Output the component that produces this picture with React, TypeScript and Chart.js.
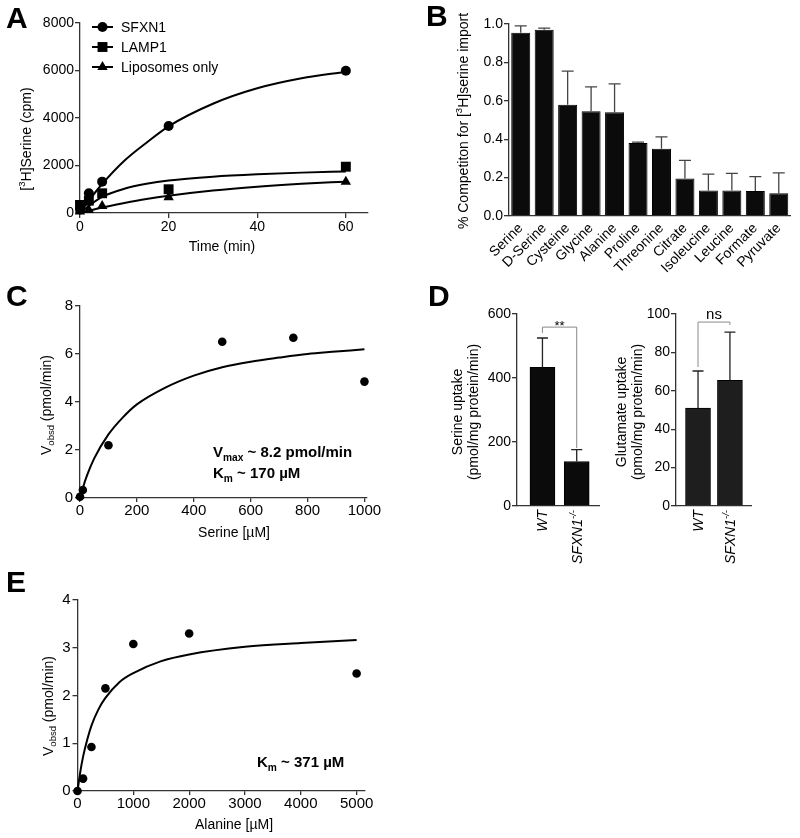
import React, { useEffect, useRef } from 'react';
import { Chart, registerables } from 'chart.js';
Chart.register(...registerables);

const FONT = "'Liberation Sans', Arimo, Arial, Helvetica, sans-serif";
const AXIS = '#333333';
const INK = '#000000';
const LW = 1.3;

// ---------- Panel A : serine uptake over time ----------
const seriesNamesA = ['SFXN1', 'LAMP1', 'Liposomes only'];
const timeTicks = [0, 20, 40, 60];
const timeMin = [0, 2, 5, 20, 60];
const sfxn1Cpm = [150, 830, 1320, 3660, 5990];
const lamp1Cpm = [340, 520, 830, 1000, 1950];
const liposomeCpm = [60, 130, 295, 660, 1320];
const fitTime = [0, 2, 5, 10, 15, 20, 30, 40, 50, 60];
const sfxn1Fit = [0, 520, 1220, 2200, 2960, 3650, 4600, 5250, 5670, 5950];
const lamp1Fit = [0, 300, 680, 1020, 1230, 1370, 1530, 1630, 1700, 1750];
const liposomeFit = [0, 90, 230, 420, 590, 730, 950, 1110, 1230, 1320];

// ---------- Panel B : competition ----------
const competitors = ['Serine', 'D-Serine', 'Cysteine', 'Glycine', 'Alanine', 'Proline', 'Threonine', 'Citrate', 'Isoleucine', 'Leucine', 'Formate', 'Pyruvate'];
const competition = [0.955, 0.97, 0.58, 0.545, 0.54, 0.38, 0.35, 0.195, 0.133, 0.133, 0.13, 0.118];
const competitionErrTop = [0.99, 0.978, 0.755, 0.673, 0.688, 0.385, 0.412, 0.29, 0.218, 0.222, 0.205, 0.225];

// ---------- Panel C : serine kinetics ----------
const serineTicks = [0, 200, 400, 600, 800, 1000];
const serineUM = [0, 10, 100, 500, 750, 1000];
const serineV = [0.05, 0.33, 2.2, 6.51, 6.68, 4.85];
const serineFitUM = [0, 10, 25, 50, 100, 150, 200, 300, 400, 500, 600, 700, 800, 900, 1000];
const serineFitV = [0, 0.42, 0.95, 1.65, 2.65, 3.35, 3.9, 4.6, 5.1, 5.45, 5.68, 5.85, 6.0, 6.1, 6.2];

// ---------- Panel D : uptake in cells ----------
const genotypes = ['WT', 'SFXN1'];
const genotypeX = [1, 2];
const serineUptake = [433, 139];
const serineUptakeErrTop = [525, 176];
const glutamateUptake = [51, 65.5];
const glutamateUptakeErrTop = [70.3, 90.6];

// ---------- Panel E : alanine kinetics ----------
const alanineTicks = [0, 1000, 2000, 3000, 4000, 5000];
const alanineUM = [0, 100, 250, 500, 1000, 2000, 5000];
const alanineV = [0, 0.26, 0.92, 2.15, 3.08, 3.3, 2.46];
const alanineFitUM = [0, 25, 50, 100, 175, 250, 375, 500, 750, 1000, 1500, 2000, 3000, 4000, 5000];
const alanineFitV = [0, 0.2, 0.4, 0.72, 1.08, 1.37, 1.71, 1.95, 2.28, 2.47, 2.72, 2.86, 3.02, 3.1, 3.16];

type Box = { x: number; y: number; w: number; h: number };
type Area = { l: number; t: number; r: number; b: number };
type Seg = { t: string; sup?: boolean; sub?: boolean };
type TOpts = { size: number; bold?: boolean; italic?: boolean; rot?: number; align?: 'left' | 'center' | 'right'; color?: string };

function fontStr(size: number, bold?: boolean, italic?: boolean) {
  return `${italic ? 'italic ' : ''}${bold ? 'bold ' : ''}${size}px ${FONT}`;
}

function drawRich(ctx: CanvasRenderingContext2D, segs: Seg[], x: number, y: number, o: TOpts) {
  ctx.save();
  ctx.translate(x, y);
  if (o.rot) ctx.rotate(o.rot);
  ctx.fillStyle = o.color || INK;
  ctx.textBaseline = 'alphabetic';
  ctx.textAlign = 'left';
  const parts = segs.map((s) => {
    const size = s.sup || s.sub ? o.size * 0.68 : o.size;
    const f = fontStr(size, o.bold, o.italic);
    ctx.font = f;
    return { s, f, w: ctx.measureText(s.t).width, dy: s.sup ? -o.size * 0.4 : s.sub ? o.size * 0.24 : 0 };
  });
  const total = parts.reduce((a, p) => a + p.w, 0);
  let cx = o.align === 'center' ? -total / 2 : o.align === 'right' ? -total : 0;
  for (const p of parts) {
    ctx.font = p.f;
    ctx.fillText(p.s.t, cx, p.dy);
    cx += p.w;
  }
  ctx.restore();
}

function marker(ctx: CanvasRenderingContext2D, style: string, x: number, y: number, r: number) {
  ctx.beginPath();
  if (style === 'circle') ctx.arc(x, y, r, 0, Math.PI * 2);
  else if (style === 'rect') {
    const h = r * Math.SQRT1_2;
    ctx.rect(x - h, y - h, 2 * h, 2 * h);
  } else {
    const s = Math.sin((2 * Math.PI) / 3) * r;
    const c = Math.cos((2 * Math.PI) / 3) * r;
    ctx.moveTo(x, y - r);
    ctx.lineTo(x + s, y - c);
    ctx.lineTo(x - s, y - c);
  }
  ctx.closePath();
  ctx.fill();
}

function baseOptions(box: Box, area: Area) {
  return {
    responsive: false,
    maintainAspectRatio: false,
    animation: false as const,
    devicePixelRatio: 1,
    layout: { padding: { left: 0, top: area.t - box.y, right: box.x + box.w - area.r, bottom: 0 } },
    plugins: { legend: { display: false }, tooltip: { enabled: false } },
  };
}

function linAxis(o: { min: number; max: number; step: number; isX: boolean; fix: number; size?: number; pad?: number; tickLen?: number; fmt?: (v: number) => string; ticks?: number[] }) {
  return {
    type: 'linear' as const,
    min: o.min,
    max: o.max,
    ticks: {
      stepSize: o.step,
      includeBounds: false,
      autoSkip: false,
      maxRotation: 0,
      color: INK,
      font: { family: FONT, size: o.size ?? 14 },
      padding: o.pad ?? 1,
      callback: (v: any) => (o.fmt ? o.fmt(Number(v)) : String(v)),
    },
    afterBuildTicks: (s: any) => {
      if (o.ticks) s.ticks = o.ticks.map((v) => ({ value: v }));
    },
    grid: { display: true, drawOnChartArea: false, drawTicks: true, tickLength: o.tickLen ?? 5, color: AXIS, lineWidth: LW },
    border: { display: true, color: AXIS, width: LW },
    afterFit: (s: any) => {
      if (o.isX) s.height = o.fix;
      else s.width = o.fix;
    },
  };
}

const pts = (xs: number[], ys: number[]) => xs.map((x, i) => ({ x, y: ys[i] }));

const fitSet = (xs: number[], ys: number[]) => ({
  type: 'line' as const,
  data: pts(xs, ys),
  borderColor: INK,
  borderWidth: 2,
  pointRadius: 0,
  cubicInterpolationMode: 'monotone' as const,
  fill: false,
  clip: false as any,
});

const dotSet = (xs: number[], ys: number[], style: string, r: number) => ({
  type: 'line' as const,
  data: pts(xs, ys),
  showLine: false,
  pointStyle: style as any,
  pointRadius: r,
  pointHoverRadius: r,
  backgroundColor: INK,
  borderColor: INK,
  borderWidth: 0,
  clip: false as any,
});

function errorBars(chart: any, tops: number[], color: string, cap: number) {
  const meta = chart.getDatasetMeta(0);
  const ys = chart.scales.y;
  const ctx = chart.ctx as CanvasRenderingContext2D;
  ctx.save();
  ctx.strokeStyle = color;
  ctx.lineWidth = LW;
  meta.data.forEach((bar: any, i: number) => {
    const yTop = ys.getPixelForValue(tops[i]);
    ctx.beginPath();
    ctx.moveTo(bar.x, bar.y);
    ctx.lineTo(bar.x, yTop);
    ctx.moveTo(bar.x - cap, yTop);
    ctx.lineTo(bar.x + cap, yTop);
    ctx.stroke();
  });
  ctx.restore();
}

// ---------------- Panel builders ----------------
const A_BOX: Box = { x: 0, y: 0, w: 400, h: 262 };
const A_AREA: Area = { l: 80, t: 23, r: 368, b: 213 };

function makeA(canvas: HTMLCanvasElement) {
  const box = A_BOX, area = A_AREA;
  const styles = ['circle', 'rect', 'triangle'];
  const radii = [5, 7, 6];
  return new Chart(canvas, {
    type: 'line',
    data: {
      datasets: [
        fitSet(fitTime, sfxn1Fit),
        fitSet(fitTime, lamp1Fit),
        fitSet(fitTime, liposomeFit),
        dotSet(timeMin, sfxn1Cpm, styles[0], radii[0]),
        dotSet(timeMin, lamp1Cpm, styles[1], radii[1]),
        dotSet(timeMin, liposomeCpm, styles[2], radii[2]),
      ] as any,
    },
    options: {
      ...baseOptions(box, area),
      scales: {
        x: linAxis({ min: 0, max: 65, step: 20, isX: true, fix: box.y + box.h - area.b, pad: 1, tickLen: 5, ticks: timeTicks }),
        y: linAxis({ min: 0, max: 8000, step: 2000, isX: false, fix: area.l - box.x, pad: 1, tickLen: 5 }),
      },
    } as any,
    plugins: [
      {
        id: 'decoA',
        afterDraw(chart: any) {
          const ctx = chart.ctx as CanvasRenderingContext2D;
          const ox = box.x, oy = box.y;
          drawRich(ctx, [{ t: '[' }, { t: '3', sup: true }, { t: 'H]Serine (cpm)' }], 31 - ox, 139 - oy, { size: 14, rot: -Math.PI / 2, align: 'center' });
          drawRich(ctx, [{ t: 'Time (min)' }], 222 - ox, 251 - oy, { size: 14, align: 'center' });
          const rows = [27, 47, 67];
          ctx.save();
          ctx.fillStyle = INK;
          ctx.strokeStyle = INK;
          ctx.lineWidth = 2;
          seriesNamesA.forEach((name, i) => {
            const y = rows[i] - oy;
            ctx.beginPath();
            ctx.moveTo(92 - ox, y);
            ctx.lineTo(113 - ox, y);
            ctx.stroke();
            marker(ctx, styles[i], 102.5 - ox, y, radii[i]);
            drawRich(ctx, [{ t: name }], 121 - ox, y + 5, { size: 14 });
          });
          ctx.restore();
        },
      },
    ],
  });
}

const B_BOX: Box = { x: 400, y: 0, w: 400, h: 280 };
const B_AREA: Area = { l: 509, t: 24, r: 790.5, b: 216 };

function makeB(canvas: HTMLCanvasElement) {
  const box = B_BOX, area = B_AREA;
  return new Chart(canvas, {
    type: 'bar',
    data: {
      labels: competitors,
      datasets: [
        {
          data: competition,
          backgroundColor: '#0b0b0b',
          borderColor: '#000000',
          borderWidth: 1,
          barPercentage: 0.81,
          categoryPercentage: 1,
        },
      ],
    },
    options: {
      ...baseOptions(box, area),
      scales: {
        x: {
          type: 'category',
          offset: true,
          grid: { display: false, drawTicks: false },
          border: { display: true, color: AXIS, width: LW },
          ticks: { color: INK, font: { family: FONT, size: 14 }, minRotation: 45, maxRotation: 45, autoSkip: false, padding: 4 },
          afterFit: (s: any) => {
            s.height = box.y + box.h - area.b;
          },
        },
        y: linAxis({ min: 0, max: 1, step: 0.2, isX: false, fix: area.l - box.x, pad: 1, tickLen: 5, fmt: (v) => v.toFixed(1) }),
      },
    } as any,
    plugins: [
      {
        id: 'decoB',
        afterDatasetsDraw(chart: any) {
          errorBars(chart, competitionErrTop, '#444444', 6);
        },
        afterDraw(chart: any) {
          const ctx = chart.ctx as CanvasRenderingContext2D;
          drawRich(ctx, [{ t: '% Competiton for [' }, { t: '3', sup: true }, { t: 'H]serine import' }], 468 - box.x, 121 - box.y, { size: 14, rot: -Math.PI / 2, align: 'center' });
        },
      },
    ],
  });
}

function makeKinetics(canvas: HTMLCanvasElement, box: Box, area: Area, cfg: {
  xs: number[]; ys: number[]; fx: number[]; fy: number[]; xmax: number; xticks: number[]; ymax: number; ystep: number;
  xTitle: string; xTitlePos: [number, number]; yTitlePos: [number, number]; notes: { segs: Seg[]; x: number; y: number }[]; size: number; dotR: number;
}) {
  return new Chart(canvas, {
    type: 'line',
    data: { datasets: [fitSet(cfg.fx, cfg.fy), dotSet(cfg.xs, cfg.ys, 'circle', cfg.dotR)] as any },
    options: {
      ...baseOptions(box, area),
      scales: {
        x: linAxis({ min: 0, max: cfg.xmax, step: cfg.xticks[1], isX: true, fix: box.y + box.h - area.b, pad: 0, tickLen: 4, size: cfg.size, ticks: cfg.xticks }),
        y: linAxis({ min: 0, max: cfg.ymax, step: cfg.ystep, isX: false, fix: area.l - box.x, pad: 2, tickLen: 5, size: cfg.size }),
      },
    } as any,
    plugins: [
      {
        id: 'decoK',
        afterDraw(chart: any) {
          const ctx = chart.ctx as CanvasRenderingContext2D;
          drawRich(ctx, [{ t: 'V' }, { t: 'obsd', sub: true }, { t: ' (pmol/min)' }], cfg.yTitlePos[0] - box.x, cfg.yTitlePos[1] - box.y, { size: 14, rot: -Math.PI / 2, align: 'center' });
          drawRich(ctx, [{ t: cfg.xTitle }], cfg.xTitlePos[0] - box.x, cfg.xTitlePos[1] - box.y, { size: 14, align: 'center' });
          cfg.notes.forEach((n) => drawRich(ctx, n.segs, n.x - box.x, n.y - box.y, { size: 15, bold: true }));
        },
      },
    ],
  });
}

const C_BOX: Box = { x: 0, y: 262, w: 400, h: 290 };
const C_AREA: Area = { l: 80, t: 306, r: 367, b: 498 };
const E_BOX: Box = { x: 0, y: 562, w: 400, h: 276 };
const E_AREA: Area = { l: 77.5, t: 600, r: 365, b: 791 };

function makeC(canvas: HTMLCanvasElement) {
  return makeKinetics(canvas, C_BOX, C_AREA, {
    xs: serineUM, ys: serineV, fx: serineFitUM, fy: serineFitV, xmax: 1009, xticks: serineTicks, ymax: 8, ystep: 2,
    xTitle: 'Serine [µM]', xTitlePos: [234, 537], yTitlePos: [51, 405], size: 15, dotR: 4.3,
    notes: [
      { segs: [{ t: 'V' }, { t: 'max', sub: true }, { t: ' ~ 8.2 pmol/min' }], x: 213, y: 457 },
      { segs: [{ t: 'K' }, { t: 'm', sub: true }, { t: ' ~ 170 µM' }], x: 213, y: 478 },
    ],
  });
}

function makeE(canvas: HTMLCanvasElement) {
  return makeKinetics(canvas, E_BOX, E_AREA, {
    xs: alanineUM, ys: alanineV, fx: alanineFitUM, fy: alanineFitV, xmax: 5150, xticks: alanineTicks, ymax: 4, ystep: 1,
    xTitle: 'Alanine [µM]', xTitlePos: [234, 829], yTitlePos: [53, 706], size: 15, dotR: 4.3,
    notes: [{ segs: [{ t: 'K' }, { t: 'm', sub: true }, { t: ' ~ 371 µM' }], x: 257, y: 767 }],
  });
}

function makeD(canvas: HTMLCanvasElement, box: Box, area: Area, cfg: {
  values: number[]; errTop: number[]; ymax: number; ystep: number; xmin: number; xmax: number; color: string;
  titles: { t: string; x: number }[]; bracket: { y: number; l: number; r: number; label: string; labelSize: number; gap: number };
}) {
  return new Chart(canvas, {
    type: 'bar',
    data: {
      datasets: [
        {
          data: pts(genotypeX, cfg.values),
          backgroundColor: cfg.color,
          borderColor: '#000000',
          borderWidth: 1,
          barThickness: 25,
        },
      ],
    },
    options: {
      ...baseOptions(box, area),
      scales: {
        x: {
          type: 'linear',
          offset: false,
          min: cfg.xmin,
          max: cfg.xmax,
          ticks: { display: false },
          grid: { display: false, drawTicks: false, offset: false },
          border: { display: true, color: AXIS, width: LW },
          afterFit: (s: any) => {
            s.height = box.y + box.h - area.b;
          },
        },
        y: linAxis({ min: 0, max: cfg.ymax, step: cfg.ystep, isX: false, fix: area.l - box.x, pad: 1, tickLen: 5 }),
      },
    } as any,
    plugins: [
      {
        id: 'decoD',
        afterDatasetsDraw(chart: any) {
          errorBars(chart, cfg.errTop, '#222222', 5.5);
        },
        afterDraw(chart: any) {
          const ctx = chart.ctx as CanvasRenderingContext2D;
          const xs = chart.scales.x, ys = chart.scales.y;
          cfg.titles.forEach((tt) => drawRich(ctx, [{ t: tt.t }], tt.x - box.x, 412 - box.y, { size: 14, rot: -Math.PI / 2, align: 'center' }));
          const top = chart.chartArea.bottom + 4;
          genotypeX.forEach((gx, i) => {
            const px = xs.getPixelForValue(gx) + 5;
            const segs: Seg[] = i === 0 ? [{ t: genotypes[i] }] : [{ t: genotypes[i] }, { t: '-/-', sup: true }];
            drawRich(ctx, segs, px, top, { size: 14, italic: true, rot: -Math.PI / 2, align: 'right' });
          });
          const b = cfg.bracket;
          const x1 = xs.getPixelForValue(genotypeX[0]);
          const x2 = xs.getPixelForValue(genotypeX[1]);
          const yb = ys.getPixelForValue(b.y);
          ctx.save();
          ctx.strokeStyle = '#8a8a8a';
          ctx.lineWidth = 1;
          ctx.beginPath();
          ctx.moveTo(x1, ys.getPixelForValue(b.l));
          ctx.lineTo(x1, yb);
          ctx.lineTo(x2, yb);
          ctx.lineTo(x2, ys.getPixelForValue(b.r));
          ctx.stroke();
          ctx.restore();
          drawRich(ctx, [{ t: b.label }], (x1 + x2) / 2, yb - b.gap, { size: b.labelSize, align: 'center' });
        },
      },
    ],
  });
}

const DL_BOX: Box = { x: 430, y: 280, w: 170, h: 300 };
const DL_AREA: Area = { l: 517, t: 314, r: 600, b: 506 };
const DR_BOX: Box = { x: 600, y: 280, w: 200, h: 300 };
const DR_AREA: Area = { l: 676, t: 314, r: 751, b: 506 };

function makeDL(canvas: HTMLCanvasElement) {
  return makeD(canvas, DL_BOX, DL_AREA, {
    values: serineUptake, errTop: serineUptakeErrTop, ymax: 600, ystep: 200, xmin: 0.257, xmax: 2.68, color: '#0b0b0b',
    titles: [{ t: 'Serine uptake', x: 462 }, { t: '(pmol/mg protein/min)', x: 478 }],
    bracket: { y: 559, l: 541, r: 181, label: '**', labelSize: 13, gap: -3 },
  });
}

function makeDR(canvas: HTMLCanvasElement) {
  return makeD(canvas, DR_BOX, DR_AREA, {
    values: glutamateUptake, errTop: glutamateUptakeErrTop, ymax: 100, ystep: 20, xmin: 0.31, xmax: 2.66, color: '#1e1e1e',
    titles: [{ t: 'Glutamate uptake', x: 626 }, { t: '(pmol/mg protein/min)', x: 642 }],
    bracket: { y: 95.8, l: 72.4, r: 94.3, label: 'ns', labelSize: 15, gap: 3 },
  });
}

function Panel({ box, make }: { box: Box; make: (c: HTMLCanvasElement) => Chart }) {
  const ref = useRef<HTMLCanvasElement>(null);
  useEffect(() => {
    const chart = make(ref.current as HTMLCanvasElement);
    return () => chart.destroy();
  }, []);
  return (
    <canvas
      ref={ref}
      width={box.w}
      height={box.h}
      style={{ position: 'absolute', left: box.x, top: box.y, width: box.w, height: box.h }}
    />
  );
}

const panelLetters = [
  { t: 'A', x: 6, y: 3 },
  { t: 'B', x: 426, y: 1 },
  { t: 'C', x: 6, y: 281 },
  { t: 'D', x: 428, y: 281 },
  { t: 'E', x: 6, y: 567 },
];

export default function App() {
  return (
    <div style={{ position: 'absolute', left: 0, top: 0, width: 800, height: 838, background: '#ffffff', overflow: 'hidden' }}>
      <Panel box={A_BOX} make={makeA} />
      <Panel box={B_BOX} make={makeB} />
      <Panel box={C_BOX} make={makeC} />
      <Panel box={DL_BOX} make={makeDL} />
      <Panel box={DR_BOX} make={makeDR} />
      <Panel box={E_BOX} make={makeE} />
      {panelLetters.map((p) => (
        <div
          key={p.t}
          style={{ position: 'absolute', left: p.x, top: p.y, font: `bold 30px ${FONT}`, lineHeight: '30px', color: '#000' }}
        >
          {p.t}
        </div>
      ))}
    </div>
  );
}
